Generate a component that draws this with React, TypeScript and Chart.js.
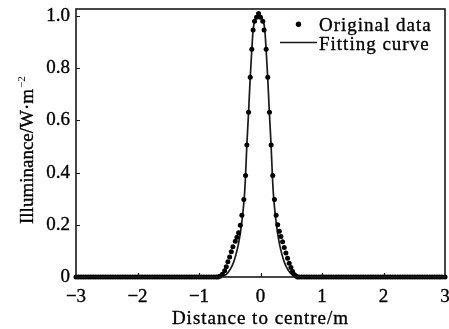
import React, { useEffect, useRef } from "react";
import { Chart, registerables } from "chart.js";

Chart.register(...registerables);

// ---- data ----
const xTickValues = [-3, -2, -1, 0, 1, 2, 3];
const yTickValues = [0, 0.2, 0.4, 0.6, 0.8, 1.0];

const tailLeftX = [
  -3.0, -2.96, -2.92, -2.88, -2.84, -2.8, -2.76, -2.72, -2.68, -2.64,
  -2.6, -2.56, -2.52, -2.48, -2.44, -2.4, -2.36, -2.32, -2.28, -2.24,
  -2.2, -2.16, -2.12, -2.08, -2.04, -2.0, -1.96, -1.92, -1.88, -1.84,
  -1.8, -1.76, -1.72, -1.68, -1.64, -1.6, -1.56, -1.52, -1.48, -1.44,
  -1.4, -1.36, -1.32, -1.28, -1.24, -1.2, -1.16, -1.12, -1.08, -1.04,
  -1.0, -0.96, -0.92, -0.88, -0.84, -0.8, -0.76, -0.72, -0.69,
];
const tailLeftY = [
  0, 0, 0, 0, 0, 0, 0, 0, 0, 0,
  0, 0, 0, 0, 0, 0, 0, 0, 0, 0,
  0, 0, 0, 0, 0, 0, 0, 0, 0, 0,
  0, 0, 0, 0, 0, 0, 0, 0, 0, 0,
  0, 0, 0, 0, 0, 0, 0, 0, 0, 0,
  0, 0, 0, 0, 0, 0, 0, 0, 0,
];

const peakX = [
  -0.66, -0.62, -0.583, -0.556, -0.53, -0.502, -0.475, -0.449, -0.41, -0.383,
  -0.356, -0.329, -0.303, -0.271, -0.243, -0.222, -0.194, -0.167, -0.141, -0.12,
  -0.097, -0.065, -0.032, 0.0, 0.037, 0.058, 0.092, 0.118, 0.146, 0.173,
  0.199, 0.227, 0.254, 0.28, 0.306, 0.332, 0.359, 0.386, 0.413, 0.44,
  0.467, 0.494, 0.521, 0.548, 0.575, 0.602,
];
const peakY = [
  0.003, 0.011, 0.024, 0.039, 0.058, 0.077, 0.097, 0.116, 0.137, 0.152,
  0.17, 0.198, 0.237, 0.297, 0.389, 0.506, 0.631, 0.765, 0.873, 0.947,
  0.98, 0.995, 1.01, 0.995, 0.98, 0.947, 0.873, 0.765, 0.631, 0.506,
  0.389, 0.297, 0.237, 0.2, 0.175, 0.155, 0.135, 0.113, 0.092, 0.072,
  0.053, 0.036, 0.021, 0.01, 0.004, 0.0,
];

const tailRightX = [
  0.63, 0.67, 0.71, 0.75, 0.79, 0.83, 0.87, 0.91, 0.95, 0.99,
  1.03, 1.07, 1.11, 1.15, 1.19, 1.23, 1.27, 1.31, 1.35, 1.39,
  1.43, 1.47, 1.51, 1.55, 1.59, 1.63, 1.67, 1.71, 1.75, 1.79,
  1.83, 1.87, 1.91, 1.95, 1.99, 2.03, 2.07, 2.11, 2.15, 2.19,
  2.23, 2.27, 2.31, 2.35, 2.39, 2.43, 2.47, 2.51, 2.55, 2.59,
  2.63, 2.67, 2.71, 2.75, 2.79, 2.83, 2.87, 2.91, 2.95, 3.0,
];
const tailRightY = [
  0, 0, 0, 0, 0, 0, 0, 0, 0, 0,
  0, 0, 0, 0, 0, 0, 0, 0, 0, 0,
  0, 0, 0, 0, 0, 0, 0, 0, 0, 0,
  0, 0, 0, 0, 0, 0, 0, 0, 0, 0,
  0, 0, 0, 0, 0, 0, 0, 0, 0, 0,
  0, 0, 0, 0, 0, 0, 0, 0, 0, 0,
];

const fitX = [
  -3.0, -0.68, -0.64, -0.59, -0.54, -0.49, -0.44, -0.4, -0.36, -0.33,
  -0.31, -0.285, -0.262, -0.243, -0.222, -0.194, -0.167, -0.141, -0.12, -0.095,
  -0.032,
  0.045, 0.07, 0.091, 0.117, 0.144, 0.172, 0.193, 0.212, 0.235, 0.26,
  0.28, 0.31, 0.35, 0.39, 0.44, 0.49, 0.54, 0.58, 0.62, 3.0,
];
const fitY = [
  0, 0, 0.001, 0.005, 0.014, 0.03, 0.055, 0.085, 0.125, 0.165,
  0.2, 0.25, 0.31, 0.389, 0.506, 0.631, 0.765, 0.873, 0.947, 0.98,
  1.0,
  0.98, 0.947, 0.873, 0.765, 0.631, 0.506, 0.389, 0.31, 0.25, 0.2,
  0.165, 0.125, 0.085, 0.055, 0.03, 0.014, 0.005, 0.001, 0, 0,
];

const legendLabels = ["Original data", "Fitting curve"];
const xTitle = "Distance to centre/m";
const yTitleMain = "Illuminance/W\u00b7m";
const yTitleSup = "\u22122";

const SERIF = '"Liberation Serif", "Times New Roman", serif';
const INK = "#000";

function pairs(xs: number[], ys: number[]) {
  return xs.map((x, i) => ({ x, y: ys[i] }));
}

function boldText(ctx: CanvasRenderingContext2D, s: string, x: number, y: number) {
  ctx.fillText(s, x, y);
  ctx.strokeText(s, x, y);
}

const decorPlugin = {
  id: "decor",
  afterDraw(chart: any) {
    const { ctx, chartArea, scales } = chart;
    const { left, right, top, bottom } = chartArea;
    const xs = scales.x;
    const ys = scales.y;
    ctx.save();
    // frame
    ctx.strokeStyle = "#1a1a1a";
    ctx.lineWidth = 1.6;
    ctx.strokeRect(left, top, right - left, bottom - top);
    // inward ticks
    ctx.lineWidth = 1.2;
    ctx.beginPath();
    xTickValues.forEach((v) => {
      if (v === xTickValues[0] || v === xTickValues[xTickValues.length - 1]) return;
      const px = Math.round(xs.getPixelForValue(v)) + 0.5;
      ctx.moveTo(px, bottom);
      ctx.lineTo(px, bottom - 4);
    });
    yTickValues.forEach((v) => {
      if (v === 0) return;
      const py = Math.round(ys.getPixelForValue(v)) + 0.5;
      ctx.moveTo(left, py);
      ctx.lineTo(left + 4, py);
    });
    ctx.stroke();

    ctx.fillStyle = INK;
    ctx.strokeStyle = INK;
    ctx.lineWidth = 0.35;
    // x title
    (ctx as any).letterSpacing = "1px";
    ctx.font = `19px ${SERIF}`;
    ctx.textAlign = "center";
    ctx.textBaseline = "alphabetic";
    boldText(ctx, xTitle, (left + right) / 2, 324);

    // legend
    ctx.textAlign = "left";
    boldText(ctx, legendLabels[0], 319, 31);
    boldText(ctx, legendLabels[1], 319, 50);
    (ctx as any).letterSpacing = "0px";
    ctx.beginPath();
    ctx.arc(298.5, 24.3, 2.7, 0, Math.PI * 2);
    ctx.fill();
    ctx.beginPath();
    ctx.lineWidth = 1.5;
    ctx.strokeStyle = "#1a1a1a";
    ctx.moveTo(280, 42.5);
    ctx.lineTo(317, 42.5);
    ctx.stroke();

    // y title
    ctx.save();
    ctx.translate(33, 224);
    ctx.rotate(-Math.PI / 2);
    ctx.font = `19px ${SERIF}`;
    ctx.textAlign = "left";
    ctx.textBaseline = "alphabetic";
    ctx.strokeStyle = INK;
    ctx.lineWidth = 0.35;
    boldText(ctx, yTitleMain, 0, 0);
    const w = ctx.measureText(yTitleMain).width;
    ctx.font = `11px ${SERIF}`;
    ctx.fillText(yTitleSup, w + 1, -8);
    ctx.restore();

    ctx.restore();
  },
};

export default function App() {
  const ref = useRef<HTMLCanvasElement | null>(null);

  useEffect(() => {
    document.body.style.margin = "0";
    const canvas = ref.current;
    if (!canvas) return;

    const chart = new Chart(canvas, {
      type: "scatter",
      data: {
        datasets: [
          {
            label: legendLabels[1],
            data: pairs(fitX, fitY),
            showLine: true,
            borderColor: "#1a1a1a",
            borderWidth: 1.7,
            pointRadius: 0,
            cubicInterpolationMode: "monotone",
            order: 2,
          } as any,
          {
            label: legendLabels[0],
            data: [
              ...pairs(tailLeftX, tailLeftY),
              ...pairs(peakX, peakY),
              ...pairs(tailRightX, tailRightY),
            ],
            showLine: false,
            pointRadius: 2.5,
            pointBorderWidth: 0,
            pointBackgroundColor: "#000",
            pointBorderColor: "#000",
            clip: false,
            order: 1,
          } as any,
        ],
      },
      options: {
        responsive: false,
        animation: false,
        devicePixelRatio: 1,
        layout: { padding: { top: 9, right: 3, bottom: 0, left: 0 } },
        plugins: {
          legend: { display: false },
          tooltip: { enabled: false },
        },
        scales: {
          x: {
            type: "linear",
            min: -3,
            max: 3,
            grid: { display: false, drawTicks: false },
            border: { display: false },
            afterBuildTicks: (s: any) => {
              s.ticks = xTickValues.map((v) => ({ value: v }));
            },
            afterFit: (s: any) => {
              s.height = 52;
              s.paddingLeft = 0;
              s.paddingRight = 0;
            },
            ticks: {
              color: INK,
              padding: 9,
              maxRotation: 0,
              autoSkip: false,
              textStrokeColor: INK,
              textStrokeWidth: 0.35,
              font: { family: SERIF, size: 19 },
              callback: (v: any) => (v < 0 ? "\u2212" + Math.abs(v) : String(v)),
            },
          },
          y: {
            type: "linear",
            min: 0,
            max: 1.027,
            grid: { display: false, drawTicks: false },
            border: { display: false },
            afterBuildTicks: (s: any) => {
              s.ticks = yTickValues.map((v) => ({ value: v }));
            },
            afterFit: (s: any) => {
              s.width = 76;
              s.paddingTop = 0;
              s.paddingBottom = 0;
            },
            ticks: {
              color: INK,
              padding: 6,
              autoSkip: false,
              textStrokeColor: INK,
              textStrokeWidth: 0.35,
              font: { family: SERIF, size: 19 },
              callback: (v: any) => (v === 0 ? "0" : Number(v).toFixed(1)),
            },
          },
        },
      },
      plugins: [decorPlugin],
    });

    return () => chart.destroy();
  }, []);

  return (
    <div style={{ width: 449, height: 329, background: "#fff" }}>
      <canvas ref={ref} width={449} height={329} style={{ display: "block" }} />
    </div>
  );
}
